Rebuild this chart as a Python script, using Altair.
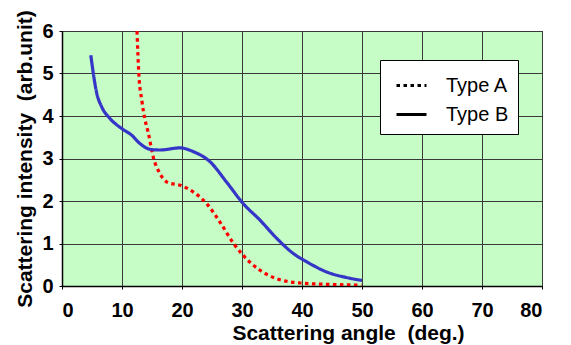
import altair as alt
import pandas as pd

blue_x = [4.8, 5.8, 6.6, 8.0, 9.9, 11.6, 13.0, 14.9, 16.3, 19.7, 21.9, 24.7, 27.4, 30.2, 33.0, 35.8, 38.6, 40.8, 44.1, 47.4, 50.0]
blue_y = [5.43, 4.53, 4.22, 3.94, 3.71, 3.55, 3.35, 3.21, 3.2, 3.25, 3.16, 2.92, 2.45, 1.94, 1.55, 1.12, 0.76, 0.57, 0.33, 0.2, 0.13]

red_x = [12.5, 12.8, 13.3, 13.8, 14.4, 15.2, 16.3, 17.7, 19.7, 21.9, 24.1, 26.3, 28.6, 30.2, 33.0, 35.8, 39.7, 44.1, 49.9]
red_y = [6.0, 5.0, 4.37, 3.94, 3.59, 3.04, 2.65, 2.43, 2.37, 2.21, 1.94, 1.51, 1.0, 0.72, 0.37, 0.17, 0.07, 0.04, 0.02]

series = ["Type A", "Type B"]
x_ticks = [0, 10, 20, 30, 40, 50, 60, 70, 80]
y_ticks = [0, 1, 2, 3, 4, 5, 6]

df = pd.concat([
    pd.DataFrame({"angle": red_x, "intensity": red_y, "Type": series[0], "order": range(len(red_x))}),
    pd.DataFrame({"angle": blue_x, "intensity": blue_y, "Type": series[1], "order": range(len(blue_x))}),
])
df["Style"] = df["Type"]

FONT = "Liberation Sans"
NB = "\u00a0"

chart = alt.Chart(df).mark_line(strokeWidth=3.2, interpolate="monotone", clip=True, strokeCap="butt").encode(
    x=alt.X("angle:Q", scale=alt.Scale(domain=[0, 80], nice=False),
            axis=alt.Axis(values=x_ticks, title="Scattering angle " + NB + "(deg.)", format="d",
                          titleX=286, titleAlign="center")),
    y=alt.Y("intensity:Q", scale=alt.Scale(domain=[0, 6], nice=False),
            axis=alt.Axis(values=y_ticks, title="Scattering intensity " + NB + "(arb.unit)", format="d")),
    color=alt.Color("Type:N", scale=alt.Scale(domain=series, range=["#ff0000", "#3535c8"]), legend=None),
    strokeDash=alt.StrokeDash("Style:N", scale=alt.Scale(range=[[3.5, 3.5], [1, 0]]),
                              legend=alt.Legend(title=None, orient="none", legendX=318, legendY=29,
                                                symbolStrokeColor="black", symbolStrokeWidth=3,
                                                symbolType="stroke", symbolSize=900, symbolOffset=6,
                                                labelFont=FONT, labelFontSize=20, labelColor="black",
                                                labelExpr="datum.label + '\u00a0\u00a0\u00a0'",
                                                fillColor="white", strokeColor="black",
                                                padding=9, rowPadding=2, labelOffset=18)),
    order="order:Q",
).properties(
    width=480, height=255,
    autosize=alt.AutoSizeParams(type="none"),
    padding={"left": 54, "top": 23, "right": 20, "bottom": 60},
).configure_view(
    fill="#c6fcc6", stroke="black", strokeWidth=1
).configure_axis(
    grid=True, gridColor="#3a3a3a", gridWidth=1, gridOpacity=1,
    domainColor="black", domainWidth=1.5,
    tickColor="black", tickSize=3,
    labelFont=FONT, labelFontSize=20, labelFontWeight="bold", labelColor="black",
    titleFont=FONT, titleFontSize=21, titleFontWeight="bold", titleColor="black",
).configure_axisX(
    labelPadding=11, titlePadding=2
).configure_axisY(
    labelPadding=6, titlePadding=6
)

chart.save("out.html", embed_options={"renderer": "svg", "actions": False})
